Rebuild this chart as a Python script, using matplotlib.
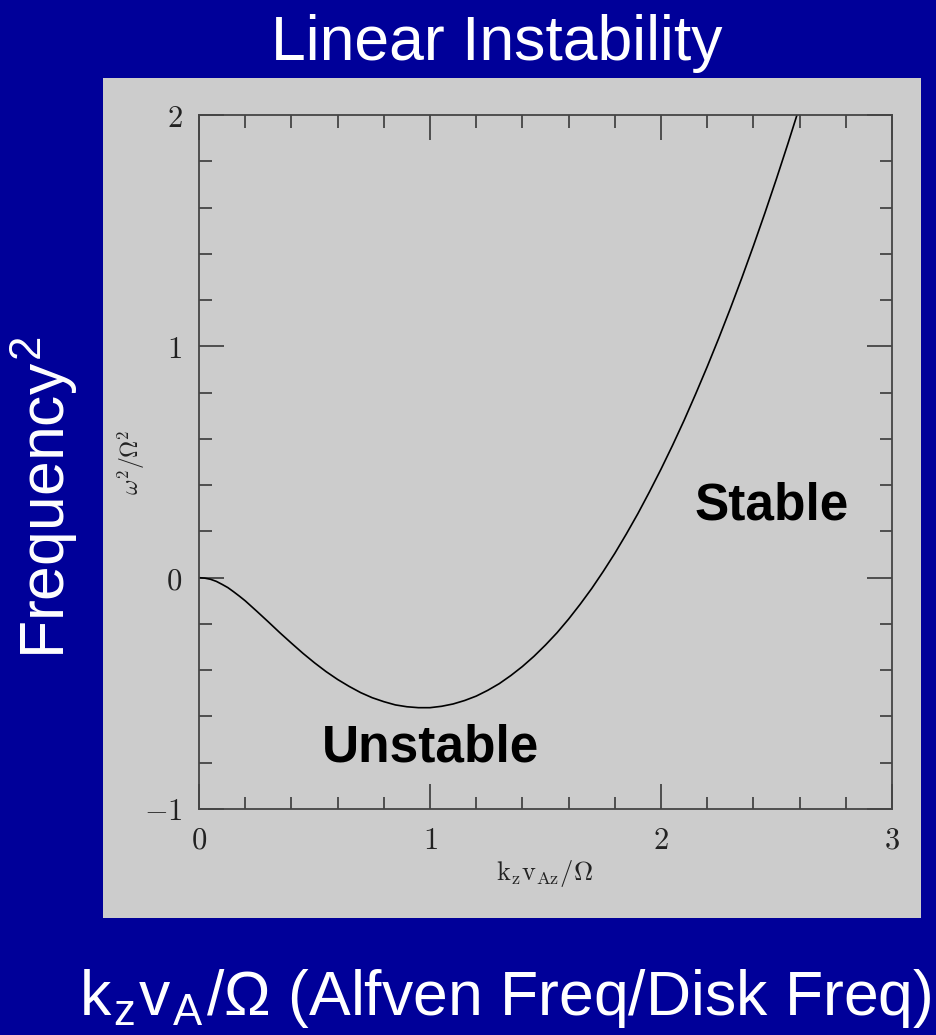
import matplotlib
matplotlib.use("Agg")
import matplotlib.pyplot as plt
from matplotlib.patches import Rectangle
from matplotlib.ticker import MultipleLocator, FuncFormatter

# Data: omega^2/Omega^2 vs k_z v_Az / Omega
kz = [0.0, 0.025, 0.05, 0.075, 0.1, 0.125, 0.15, 0.175, 0.2, 0.25, 0.3, 0.35,
      0.4, 0.45, 0.5, 0.55, 0.6, 0.65, 0.7, 0.75, 0.8, 0.85, 0.9, 0.95, 1.0,
      1.05, 1.1, 1.15, 1.2, 1.25, 1.3, 1.35, 1.4, 1.45, 1.5, 1.55, 1.6, 1.65,
      1.7, 1.75, 1.8, 1.85, 1.9, 1.95, 2.0, 2.05, 2.1, 2.15, 2.2, 2.25, 2.3,
      2.35, 2.4, 2.45, 2.5, 2.55, 2.6]
omega2 = [0.0, -0.002, -0.007, -0.016, -0.029, -0.043, -0.061, -0.080,
          -0.100, -0.145, -0.191, -0.238, -0.283, -0.327, -0.368, -0.406,
          -0.440, -0.470, -0.497, -0.519, -0.536, -0.550, -0.558, -0.562,
          -0.562, -0.556, -0.546, -0.531, -0.512, -0.487, -0.458, -0.423,
          -0.384, -0.340, -0.291, -0.238, -0.179, -0.115, -0.047, 0.027,
          0.105, 0.189, 0.277, 0.371, 0.469, 0.572, 0.680, 0.794, 0.912,
          1.035, 1.163, 1.296, 1.434, 1.577, 1.725, 1.878, 2.036]
x_major = [0, 1, 2, 3]
y_major = [-1, 0, 1, 2]

W, H = 937, 1035
BLUE = '#000099'
GRAY = '#cccccc'

plt.rcParams['mathtext.fontset'] = 'cm'
plt.rcParams['font.family'] = ['Liberation Sans', 'DejaVu Sans']

fig = plt.figure(figsize=(W / 100, H / 100), dpi=100, facecolor=BLUE)

def fx(px):
    return px / W

def fy(py):
    return 1 - py / H

# gray panel
fig.patches.append(Rectangle((fx(103), fy(918)), fx(921) - fx(103), fy(78) - fy(918),
                             transform=fig.transFigure, facecolor=GRAY,
                             edgecolor='none', zorder=-5))

ax = fig.add_axes([fx(199), fy(809), fx(892) - fx(199), fy(115) - fy(809)])
ax.set_zorder(2)
ax.set_facecolor(GRAY)
ax.plot(kz, omega2, color='black', lw=1.2, clip_on=True,
        solid_joinstyle='round')
ax.set_xlim(0, 3)
ax.set_ylim(-1, 2)
ax.set_xticks(x_major)
ax.set_yticks(y_major)
ax.xaxis.set_minor_locator(MultipleLocator(0.2))
ax.yaxis.set_minor_locator(MultipleLocator(0.2))
fmt = FuncFormatter(lambda v, p: r'$%d$' % round(v))
ax.xaxis.set_major_formatter(fmt)
ax.yaxis.set_major_formatter(fmt)
ax.tick_params(which='both', direction='in', top=True, right=True,
               color='#444444', width=1.3, labelsize=22, labelcolor='#222222')
ax.tick_params(which='major', length=18, pad=12)
ax.tick_params(which='minor', length=9)
for s in ax.spines.values():
    s.set_color('#444444')
    s.set_linewidth(1.3)

# axis labels inside the gray panel
fig.text(fx(545), fy(880), r'$\mathrm{k_z v_{Az}/\Omega}$', ha='center',
         va='baseline', fontsize=19, color='#222222', zorder=3)
fig.text(fx(131), fy(462), r'$\omega^2/\Omega^2$', ha='center', va='center',
         rotation=90, fontsize=17, color='#222222', zorder=3)

# region labels
fig.text(fx(431), fy(762), 'Unstable', ha='center', va='baseline',
         fontsize=37, fontweight='bold', color='black', zorder=3)
fig.text(fx(772), fy(520), 'Stable', ha='center', va='baseline',
         fontsize=37, fontweight='bold', color='black', zorder=3)

# slide texts
fig.text(fx(497), fy(60), 'Linear Instability', ha='center', va='baseline',
         fontsize=45, color='white', zorder=3)
fig.text(fx(505), fy(1015), r'k$_\mathregular{z}$v$_\mathregular{A}$/Ω (Alfven Freq/Disk Freq)',
         ha='center', va='baseline', fontsize=45, color='white', zorder=3)
fig.text(fx(45), fy(498), r'Frequency$^\mathregular{2}$', ha='center', va='center',
         rotation=90, fontsize=45, color='white', zorder=3)

fig.savefig('out.png', dpi=100, facecolor=BLUE)
